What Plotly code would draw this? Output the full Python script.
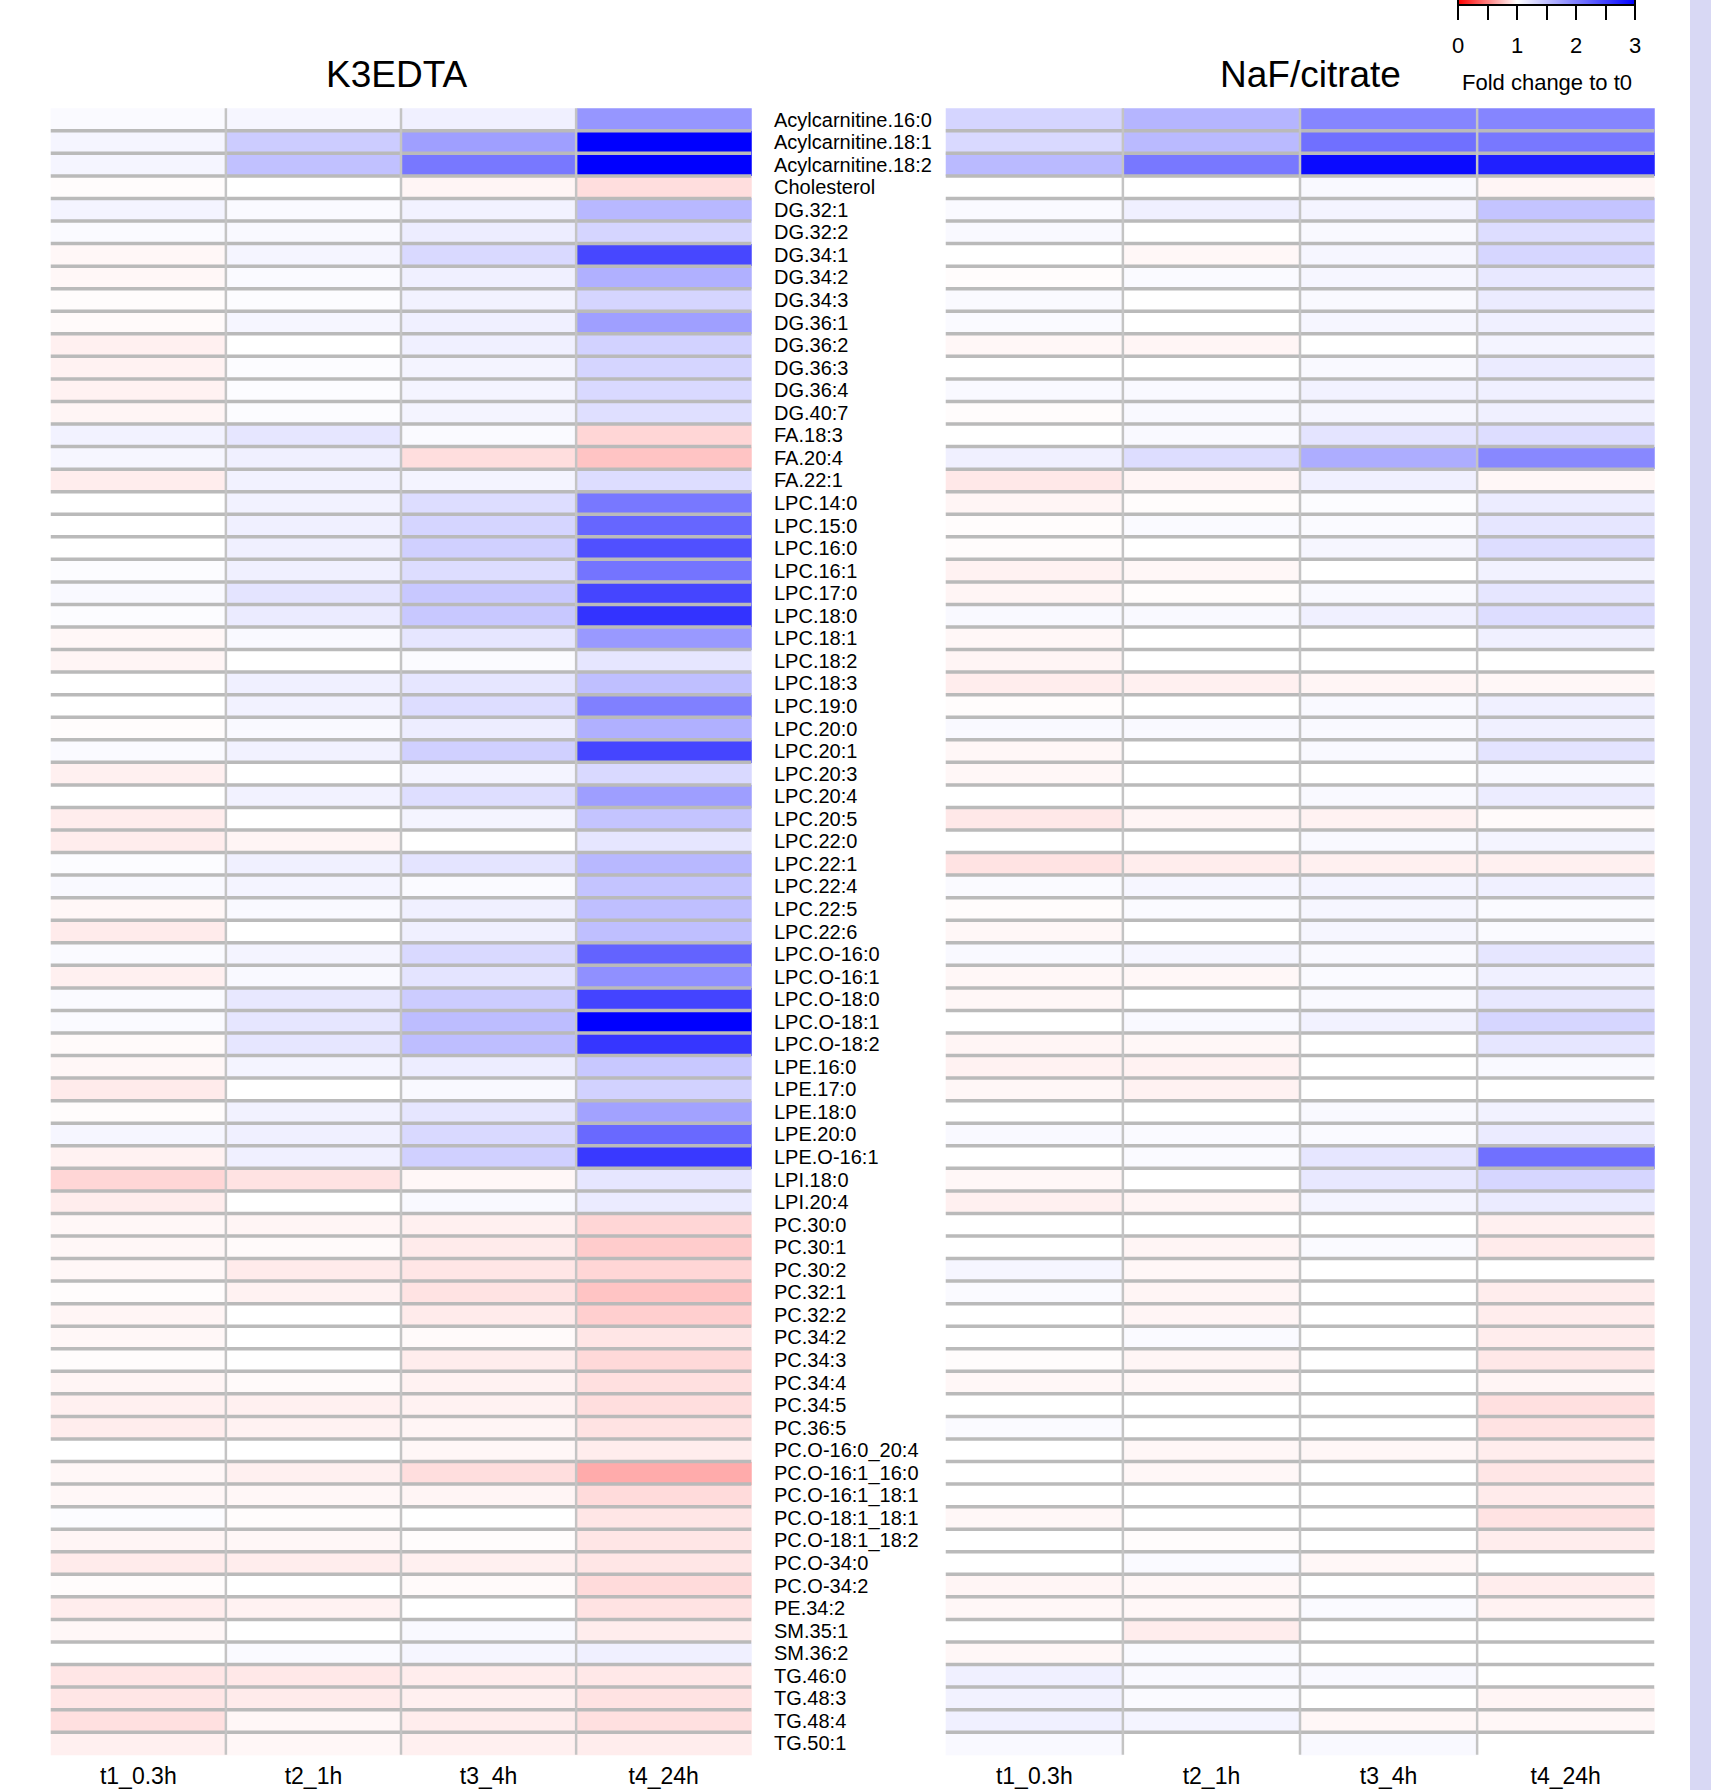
import plotly.graph_objects as go

lipids = [
    "Acylcarnitine.16:0", "Acylcarnitine.18:1", "Acylcarnitine.18:2", "Cholesterol",
    "DG.32:1", "DG.32:2", "DG.34:1", "DG.34:2", "DG.34:3", "DG.36:1", "DG.36:2",
    "DG.36:3", "DG.36:4", "DG.40:7", "FA.18:3", "FA.20:4", "FA.22:1",
    "LPC.14:0", "LPC.15:0", "LPC.16:0", "LPC.16:1", "LPC.17:0", "LPC.18:0",
    "LPC.18:1", "LPC.18:2", "LPC.18:3", "LPC.19:0", "LPC.20:0", "LPC.20:1",
    "LPC.20:3", "LPC.20:4", "LPC.20:5", "LPC.22:0", "LPC.22:1", "LPC.22:4",
    "LPC.22:5", "LPC.22:6", "LPC.O-16:0", "LPC.O-16:1", "LPC.O-18:0",
    "LPC.O-18:1", "LPC.O-18:2", "LPE.16:0", "LPE.17:0", "LPE.18:0", "LPE.20:0",
    "LPE.O-16:1", "LPI.18:0", "LPI.20:4", "PC.30:0", "PC.30:1", "PC.30:2",
    "PC.32:1", "PC.32:2", "PC.34:2", "PC.34:3", "PC.34:4", "PC.34:5", "PC.36:5",
    "PC.O-16:0_20:4", "PC.O-16:1_16:0", "PC.O-16:1_18:1", "PC.O-18:1_18:1",
    "PC.O-18:1_18:2", "PC.O-34:0", "PC.O-34:2", "PE.34:2", "SM.35:1", "SM.36:2",
    "TG.46:0", "TG.48:3", "TG.48:4", "TG.50:1",
]

timepoints = ["t1_0.3h", "t2_1h", "t3_4h", "t4_24h"]

# K3EDTA fold change to t0, one list per time point
k3_t1 = [1.04, 1.08, 1.08, 0.99, 1.09, 1.04, 0.97, 0.97, 0.99, 0.98, 0.94, 0.95, 0.95, 0.96,
         1.10, 1.07, 0.93, 1.00, 1.00, 1.00, 1.02, 1.05, 1.02, 0.97, 0.96, 1.00, 1.00, 0.99,
         1.04, 0.94, 1.00, 0.93, 0.93, 1.02, 1.05, 0.97, 0.92, 1.04, 0.94, 1.04, 1.04, 0.98,
         0.97, 0.92, 0.99, 1.07, 0.95, 0.84, 0.93, 0.97, 0.97, 0.97, 0.99, 0.96, 0.97, 0.99,
         0.96, 0.94, 0.93, 1.00, 0.97, 0.97, 1.02, 0.96, 0.92, 0.99, 0.93, 0.97, 1.00, 0.90,
         0.90, 0.88, 0.94]
k3_t2 = [1.07, 1.40, 1.49, 1.00, 1.04, 1.05, 1.08, 1.04, 1.02, 1.07, 1.00, 1.02, 1.02, 1.02,
         1.20, 1.12, 1.10, 1.10, 1.12, 1.12, 1.12, 1.21, 1.16, 1.05, 1.00, 1.12, 1.10, 1.05,
         1.10, 1.00, 1.10, 1.00, 0.96, 1.12, 1.09, 1.05, 1.00, 1.09, 1.05, 1.18, 1.20, 1.20,
         1.09, 1.00, 1.10, 1.12, 1.12, 0.89, 1.00, 0.96, 0.98, 0.92, 0.95, 1.00, 1.00, 1.00,
         0.98, 0.94, 0.95, 1.00, 0.94, 0.97, 0.99, 0.97, 0.93, 1.00, 0.95, 1.00, 1.04, 0.91,
         0.92, 0.97, 0.97]
k3_t3 = [1.12, 1.75, 2.06, 0.96, 1.10, 1.14, 1.30, 1.12, 1.10, 1.12, 1.12, 1.09, 1.09, 1.09,
         1.04, 0.87, 1.09, 1.27, 1.33, 1.37, 1.27, 1.43, 1.43, 1.20, 1.03, 1.20, 1.27, 1.14,
         1.37, 1.09, 1.26, 1.09, 1.00, 1.21, 1.04, 1.12, 1.12, 1.30, 1.21, 1.40, 1.52, 1.51,
         1.14, 1.05, 1.20, 1.30, 1.37, 0.97, 1.05, 0.94, 0.92, 0.90, 0.89, 0.92, 0.98, 0.93,
         0.95, 0.95, 0.96, 0.97, 0.87, 0.96, 1.00, 0.99, 0.94, 0.98, 1.00, 1.05, 1.07, 0.93,
         0.94, 0.93, 0.94]
k3_t4 = [1.82, 3.00, 3.00, 0.87, 1.56, 1.33, 2.44, 1.62, 1.33, 1.75, 1.35, 1.33, 1.30, 1.25,
         0.84, 0.77, 1.27, 2.06, 2.20, 2.37, 2.09, 2.46, 2.60, 1.80, 1.20, 1.50, 2.00, 1.62,
         2.46, 1.30, 1.76, 1.46, 1.20, 1.56, 1.46, 1.50, 1.50, 2.22, 1.87, 2.47, 3.00, 2.58,
         1.43, 1.35, 1.73, 2.18, 2.55, 1.20, 1.16, 0.84, 0.80, 0.84, 0.77, 0.81, 0.90, 0.85,
         0.88, 0.87, 0.89, 0.93, 0.67, 0.86, 0.90, 0.90, 0.90, 0.86, 0.89, 0.93, 1.12, 0.91,
         0.89, 0.88, 0.93]

# NaF/citrate fold change to t0, one list per time point
naf_t1 = [1.33, 1.30, 1.54, 1.00, 1.04, 1.05, 1.00, 0.99, 1.04, 1.04, 0.97, 1.00, 1.05, 0.99,
          1.00, 1.12, 0.91, 0.96, 0.99, 0.99, 0.95, 0.96, 1.05, 0.97, 0.96, 0.93, 0.99, 1.05,
          0.97, 0.97, 1.00, 0.91, 1.00, 0.89, 1.04, 0.99, 0.97, 1.05, 0.97, 0.97, 1.00, 0.96,
          0.95, 0.97, 1.00, 1.05, 1.00, 0.97, 0.94, 1.00, 1.00, 1.07, 1.04, 1.00, 1.00, 0.99,
          0.97, 1.00, 1.04, 1.00, 1.00, 1.00, 0.97, 1.00, 1.00, 0.96, 0.97, 1.00, 0.97, 1.12,
          1.10, 1.12, 1.05]
naf_t2 = [1.58, 1.54, 2.06, 1.00, 1.12, 1.00, 0.97, 1.04, 1.00, 1.00, 0.96, 1.00, 1.05, 1.05,
          1.05, 1.27, 0.96, 0.99, 1.04, 1.00, 0.97, 0.99, 1.05, 1.00, 1.00, 0.94, 1.00, 1.05,
          1.00, 1.00, 1.00, 0.96, 1.00, 0.93, 1.07, 1.04, 1.00, 1.07, 0.97, 1.00, 1.05, 0.97,
          0.95, 0.95, 1.00, 1.04, 1.04, 1.00, 0.96, 1.00, 0.96, 0.97, 0.96, 0.96, 1.04, 0.96,
          0.97, 1.00, 1.00, 0.97, 0.97, 1.00, 1.00, 0.99, 1.04, 0.97, 0.97, 0.93, 1.04, 1.05,
          1.04, 1.09, 1.00]
naf_t3 = [1.96, 2.12, 2.92, 1.05, 1.09, 1.05, 1.07, 1.07, 1.05, 1.07, 1.00, 1.05, 1.10, 1.07,
          1.21, 1.64, 1.12, 1.02, 1.04, 1.07, 1.00, 1.05, 1.12, 1.00, 1.00, 0.96, 1.05, 1.05,
          1.05, 1.00, 1.05, 0.95, 1.05, 0.94, 1.09, 1.07, 1.07, 1.05, 1.04, 1.05, 1.10, 1.00,
          1.00, 1.00, 1.05, 1.04, 1.20, 1.18, 1.09, 1.00, 1.04, 1.00, 1.00, 1.00, 1.00, 1.00,
          1.00, 1.00, 1.00, 0.97, 1.00, 1.00, 1.00, 1.00, 0.97, 1.00, 1.04, 1.00, 1.00, 1.05,
          1.00, 0.97, 1.05]
naf_t4 = [1.96, 2.06, 2.75, 0.96, 1.46, 1.27, 1.32, 1.18, 1.16, 1.12, 1.09, 1.16, 1.12, 1.12,
          1.27, 1.93, 0.97, 1.15, 1.20, 1.27, 1.10, 1.20, 1.27, 1.12, 1.00, 0.97, 1.12, 1.12,
          1.21, 1.05, 1.15, 0.98, 1.09, 0.94, 1.12, 1.04, 1.04, 1.20, 1.12, 1.18, 1.32, 1.20,
          1.05, 1.00, 1.10, 1.16, 2.12, 1.32, 1.16, 0.94, 0.92, 1.00, 0.93, 0.93, 0.93, 0.91,
          0.96, 0.88, 0.89, 0.93, 0.90, 0.92, 0.89, 0.93, 1.00, 0.93, 0.95, 1.00, 1.00, 1.00,
          0.96, 0.97, 1.00]

groups = ["K3EDTA", "NaF/citrate"]
legend_title = "Fold change to t0"
cmin, cmax = 0, 3
colorbar_ticks = [0, 0.5, 1, 1.5, 2, 2.5, 3]
colorbar_labels = [0, 1, 2, 3]

FONT = "Liberation Sans, Arial, sans-serif"
W, H = 1711, 1790
ML, MR, MT, MB = 49, 55, 107, 34
plot_w = W - ML - MR
plot_h = H - MT - MB

# colorbar geometry (pixels)
CB_X0, CB_LEN = 1458, 177


def px_x(px):
    return (px - ML) / plot_w


def px_y(px):
    return (H - MB - px) / plot_h


def rows_of(*cols):
    return [list(v) for v in zip(*cols)]


z_k3 = rows_of(k3_t1, k3_t2, k3_t3, k3_t4)
z_naf = rows_of(naf_t1, naf_t2, naf_t3, naf_t4)

fig = go.Figure()
fig.add_trace(go.Heatmap(z=z_k3, x=timepoints, y=lipids, coloraxis="coloraxis",
                         xaxis="x", yaxis="y", hoverongaps=False))
fig.add_trace(go.Heatmap(z=z_naf, x=timepoints, y=lipids, coloraxis="coloraxis",
                         xaxis="x2", yaxis="y2", hoverongaps=False))

# separators between cells
shapes = []
n_rows, n_cols = len(lipids), len(timepoints)
for xr, yr in (("x", "y"), ("x2", "y2")):
    for i in range(n_rows - 1):
        shapes.append(dict(type="line", xref=xr, yref=yr, x0=-0.5, x1=n_cols - 0.5,
                           y0=i + 0.5, y1=i + 0.5, layer="above",
                           line=dict(color="#bababa", width=3.5)))
    for j in range(n_cols - 1):
        shapes.append(dict(type="line", xref=xr, yref=yr, x0=j + 0.5, x1=j + 0.5,
                           y0=-0.5, y1=n_rows - 0.5, layer="above",
                           line=dict(color="#c4c4c4", width=2.5)))
# light strip at the right edge of the page
shapes.append(dict(type="rect", xref="paper", yref="paper",
                   x0=px_x(1690), x1=px_x(W + 10),
                   y0=px_y(H + 10), y1=px_y(-10),
                   fillcolor="#d8d8f4", line=dict(width=0), layer="below"))

dom1 = [0, px_x(753)]
dom2 = [px_x(944), 1]

annotations = [
    dict(text=groups[0], xref="paper", yref="paper", x=px_x(397), y=px_y(74),
         xanchor="center", yanchor="middle", showarrow=False,
         font=dict(family=FONT, size=37, color="black")),
    dict(text=groups[1], xref="paper", yref="paper", x=px_x(1310), y=px_y(74),
         xanchor="center", yanchor="middle", showarrow=False,
         font=dict(family=FONT, size=37, color="black")),
    dict(text=legend_title, xref="paper", yref="paper", x=px_x(CB_X0 + CB_LEN / 2),
         y=px_y(82), xanchor="center", yanchor="middle", showarrow=False,
         font=dict(family=FONT, size=22, color="black")),
]
# colorbar value labels, placed along the colorbar scale
for v in colorbar_labels:
    annotations.append(dict(
        text=str(v), xref="paper", yref="paper",
        x=px_x(CB_X0 + (v - cmin) / (cmax - cmin) * CB_LEN), y=px_y(46),
        xanchor="center", yanchor="middle", showarrow=False,
        font=dict(family=FONT, size=22, color="black")))

fig.update_layout(
    width=W, height=H,
    margin=dict(l=ML, r=MR, t=MT, b=MB, autoexpand=False, pad=0),
    paper_bgcolor="white", plot_bgcolor="white",
    font=dict(family=FONT, color="black"),
    shapes=shapes, annotations=annotations,
    coloraxis=dict(
        cmin=cmin, cmax=cmax,
        colorscale=[[0, "rgb(255,0,0)"], [1 / 3, "rgb(255,255,255)"], [1, "rgb(0,0,255)"]],
        colorbar=dict(
            orientation="h", xref="paper", yref="paper",
            x=px_x(CB_X0 + CB_LEN / 2), xanchor="center",
            y=px_y(-15), yanchor="top",
            lenmode="pixels", len=CB_LEN, thickness=20, xpad=0, ypad=0,
            outlinewidth=2, outlinecolor="black",
            tickvals=colorbar_ticks, ticktext=[""] * len(colorbar_ticks),
            ticks="outside", ticklen=14, tickwidth=2, tickcolor="black",
            tickfont=dict(family=FONT, size=22, color="black"),
        ),
    ),
    xaxis=dict(domain=dom1, anchor="y", showgrid=False, zeroline=False, ticks="",
               tickfont=dict(family=FONT, size=23, color="black"), ticklabelstandoff=4),
    xaxis2=dict(domain=dom2, anchor="y2", showgrid=False, zeroline=False, ticks="",
                tickfont=dict(family=FONT, size=23, color="black"), ticklabelstandoff=4),
    yaxis=dict(anchor="x", autorange="reversed", side="right", showgrid=False,
               zeroline=False, ticks="", ticklabelstandoff=20,
               tickmode="array", tickvals=lipids, ticktext=lipids,
               tickfont=dict(family=FONT, size=20, color="black")),
    yaxis2=dict(anchor="x2", autorange="reversed", showgrid=False, zeroline=False,
                ticks="", showticklabels=False, matches="y"),
)

fig.write_html("out.html")
